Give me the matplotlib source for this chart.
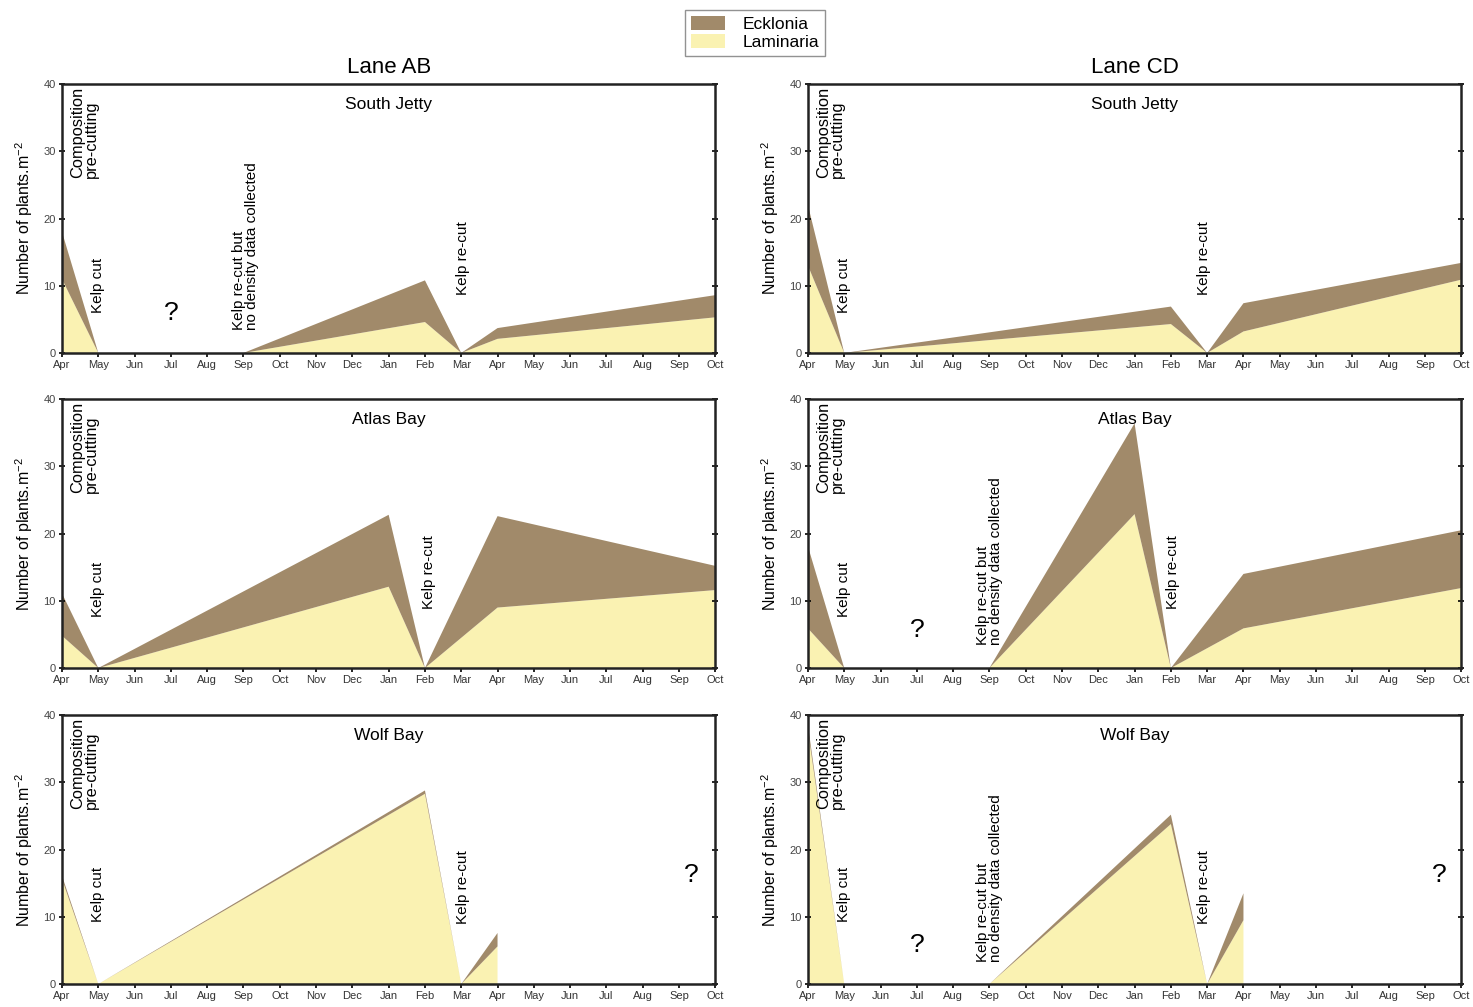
import matplotlib
matplotlib.use("Agg")
import matplotlib.pyplot as plt
from matplotlib.patches import Patch

plt.rcParams['font.family'] = ['Liberation Sans', 'DejaVu Sans']

months = ['Apr', 'May', 'Jun', 'Jul', 'Aug', 'Sep', 'Oct', 'Nov', 'Dec', 'Jan',
          'Feb', 'Mar', 'Apr', 'May', 'Jun', 'Jul', 'Aug', 'Sep', 'Oct']

# sampling points (month index) and densities, plants per m2
sj_ab_x = [0, 1, 5, 10, 11, 12, 18]
sj_ab_lam = [11.0, 0, 0, 4.6, 0, 2.1, 5.3]
sj_ab_eck = [7.0, 0, 0, 6.2, 0, 1.6, 3.3]

sj_cd_x = [0, 1, 10, 11, 12, 18]
sj_cd_lam = [13.0, 0, 4.3, 0, 3.2, 10.9]
sj_cd_eck = [9.0, 0, 2.6, 0, 4.2, 2.5]

ab_ab_x = [0, 1, 9, 10, 12, 18]
ab_ab_lam = [4.8, 0, 12.1, 0, 9.0, 11.6]
ab_ab_eck = [6.3, 0, 10.7, 0, 13.6, 3.6]

ab_cd_x = [0, 1, 5, 9, 10, 12, 18]
ab_cd_lam = [5.9, 0, 0, 22.9, 0, 5.9, 11.9]
ab_cd_eck = [12.2, 0, 0, 13.5, 0, 8.1, 8.6]

wb_ab_x = [0, 1, 10, 11, 12]
wb_ab_lam = [15.6, 0, 28.3, 0, 5.6]
wb_ab_eck = [0.5, 0, 0.5, 0, 2.0]

wb_cd_x = [0, 1, 5, 10, 11, 12]
wb_cd_lam = [37.7, 0, 0, 23.8, 0, 9.5]
wb_cd_eck = [0.8, 0, 0, 1.4, 0, 4.0]

sites = ['South Jetty', 'Atlas Bay', 'Wolf Bay']
lanes = ['Lane AB', 'Lane CD']

c_eck = '#a18a6a'
c_lam = '#faf2b2'

comp_txt = 'Composition\npre-cutting'
cut_txt = 'Kelp cut'
recut_txt = 'Kelp re-cut'
nodata_txt = 'Kelp re-cut but\nno density data collected'

panels = [
    [(sj_ab_x, sj_ab_lam, sj_ab_eck,
      [(0.62, 26, comp_txt), (1.0, 5.9, cut_txt), (5.05, 3.4, nodata_txt), (11.05, 8.6, recut_txt)],
      [(3.0, 5.9)]),
     (sj_cd_x, sj_cd_lam, sj_cd_eck,
      [(0.62, 26, comp_txt), (1.0, 5.9, cut_txt), (10.9, 8.6, recut_txt)],
      [])],
    [(ab_ab_x, ab_ab_lam, ab_ab_eck,
      [(0.62, 26, comp_txt), (1.0, 7.6, cut_txt), (10.1, 8.8, recut_txt)],
      []),
     (ab_cd_x, ab_cd_lam, ab_cd_eck,
      [(0.62, 26, comp_txt), (1.0, 7.6, cut_txt), (5.0, 3.4, nodata_txt), (10.05, 8.8, recut_txt)],
      [(3.0, 5.6)])],
    [(wb_ab_x, wb_ab_lam, wb_ab_eck,
      [(0.62, 26, comp_txt), (1.0, 9.2, cut_txt), (11.05, 8.9, recut_txt)],
      [(17.35, 16.2)]),
     (wb_cd_x, wb_cd_lam, wb_cd_eck,
      [(0.62, 26, comp_txt), (1.0, 9.2, cut_txt), (5.0, 3.3, nodata_txt), (10.9, 8.9, recut_txt)],
      [(3.0, 5.8), (17.4, 16.2)])],
]

fig = plt.figure(figsize=(14.73, 10.07), dpi=100)

lefts = [0.0421, 0.5485]
bottoms = [0.6495, 0.3366, 0.0228]
w, h = 0.4435, 0.267

for r in range(3):
    for c in range(2):
        x, lam, eck, notes, qmarks = panels[r][c]
        ax = fig.add_axes([lefts[c], bottoms[r], w, h])
        ax.stackplot(x, lam, eck, colors=[c_lam, c_eck], linewidth=0)
        ax.set_xlim(0, 18)
        ax.set_ylim(0, 40)
        ax.set_xticks(range(len(months)))
        ax.set_xticklabels(months, fontsize=8, color='#333333')
        ax.set_yticks([0, 10, 20, 30, 40])
        ax.tick_params(axis='x', direction='out', length=3, width=1.2, pad=2)
        ax.tick_params(axis='y', direction='inout', length=5, width=1.2, right=True,
                       labelsize=8, labelcolor='#444444', pad=2)
        for s in ax.spines.values():
            s.set_linewidth(1.8)
            s.set_color('#222222')
        ax.set_ylabel('Number of plants.m$^{\\mathregular{-2}}$', fontsize=11.5, labelpad=6)
        ax.text(9, 37, sites[r], ha='center', va='center', fontsize=12.5)
        for tx, ty, t in notes:
            fs = 11.8 if t == comp_txt else 11
            ax.text(tx, ty, t, rotation=90, ha='center', va='bottom',
                    multialignment='left', fontsize=fs, linespacing=0.95)
        for qx, qy in qmarks:
            ax.text(qx, qy, '?', ha='center', va='center', fontsize=19)
        if r == 0:
            ax.set_title(lanes[c], fontsize=16, pad=8)

handles = [Patch(facecolor=c_eck, label='Ecklonia'),
           Patch(facecolor=c_lam, label='Laminaria')]
fig.legend(handles=handles, loc='upper center', bbox_to_anchor=(0.5126, 0.994),
           fontsize=12.5, frameon=True, fancybox=False, edgecolor='#777777',
           handlelength=2.0, handleheight=0.9, labelspacing=0.1,
           borderpad=0.35, handletextpad=1.0, borderaxespad=0.2)

fig.savefig('out.png', dpi=100)
